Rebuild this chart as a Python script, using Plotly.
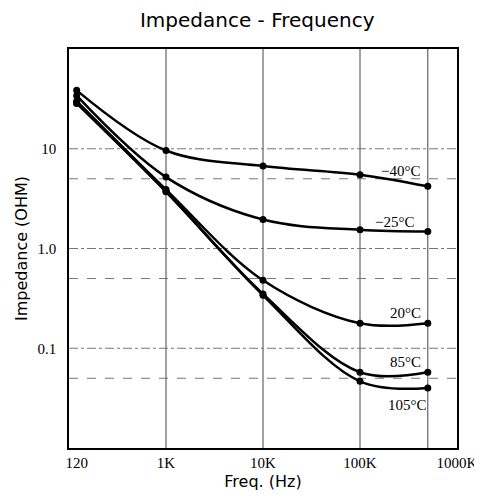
import math
import plotly.graph_objects as go

freq = [120, 1000, 10000, 100000, 500000]
z_m40 = [38.5, 9.6, 6.7, 5.5, 4.2]
z_m25 = [34, 5.2, 1.95, 1.54, 1.48]
z_20 = [30, 3.9, 0.48, 0.178, 0.178]
z_85 = [29, 3.75, 0.35, 0.0575, 0.0575]
z_105 = [28.5, 3.7, 0.34, 0.0466, 0.040]
series = [("\u221240\u00b0C", z_m40), ("\u221225\u00b0C", z_m25), ("20\u00b0C", z_20),
          ("85\u00b0C", z_85), ("105\u00b0C", z_105)]

x_tickvals = [120, 1000, 10000, 100000, 1000000]
x_ticktext = ["120", "1K", "10K", "100K", "1000K"]
y_tickvals = [10, 1, 0.1]
y_ticktext = ["10", "1.0", "0.1"]
vgrid = [1000, 10000, 100000, 500000]
hgrid_major = [10, 1, 0.1]
hgrid_minor = [5, 0.5, 0.05]

# label offsets (px) relative to the 500K point of each curve
label_off = [(-6, 15), (-12, 10), (-5, 10), (-5, 10), (1, -17)]

fig = go.Figure()
for name, z in series:
    fig.add_trace(go.Scatter(x=freq, y=z, mode="lines+markers", name=name,
                             line=dict(color="black", width=2.5, shape="spline", smoothing=1),
                             marker=dict(color="black", size=7)))

for (name, z), (dx, dy) in zip(series, label_off):
    fig.add_annotation(x=math.log10(freq[-1]), y=math.log10(z[-1]),
                       text=name, showarrow=False, xanchor="right", yanchor="middle",
                       xshift=dx, yshift=dy,
                       font=dict(family="Liberation Serif", size=15, color="black"))

for v in vgrid:
    fig.add_vline(x=v, line=dict(color="#444444", width=1), layer="below")
for h in hgrid_major:
    fig.add_hline(y=h, line=dict(color="#777777", width=1, dash="dashdot"), layer="below")
for h in hgrid_minor:
    fig.add_hline(y=h, line=dict(color="#777777", width=1, dash="dash"), layer="below")

fig.update_xaxes(type="log", range=[2, 6], tickvals=x_tickvals, ticktext=x_ticktext,
                 showgrid=False, zeroline=False, showline=True, linecolor="black",
                 linewidth=1.5, mirror=True, ticks="",
                 tickfont=dict(family="Liberation Serif", size=15, color="black"),
                 title=dict(text="Freq. (Hz)", standoff=6,
                            font=dict(family="DejaVu Sans", size=16, color="black")))
fig.update_yaxes(type="log", range=[-2, 2], tickvals=y_tickvals, ticktext=y_ticktext,
                 showgrid=False, zeroline=False, showline=True, linecolor="black",
                 linewidth=1.5, mirror=True, ticks="", ticklabelstandoff=8,
                 tickfont=dict(family="Liberation Serif", size=15, color="black"),
                 title=dict(text="Impedance (OHM)", standoff=6,
                            font=dict(family="DejaVu Sans", size=16, color="black")))

fig.update_layout(width=482, height=498, showlegend=False,
                  plot_bgcolor="white", paper_bgcolor="white",
                  margin=dict(l=56, r=30, t=41, b=58),
                  title=dict(text="Impedance - Frequency", x=0.517, xanchor="center",
                             y=0.975, yanchor="middle",
                             font=dict(family="DejaVu Sans", size=20, color="black")))

fig.write_html("out.html")
